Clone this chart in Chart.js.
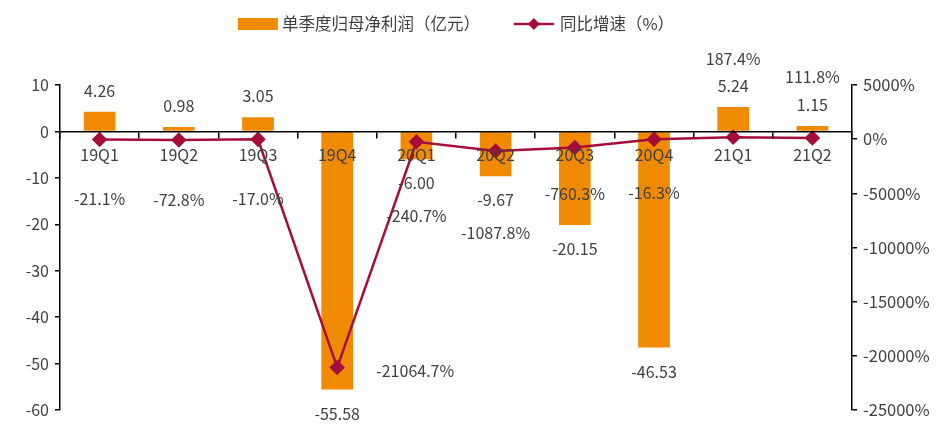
<!DOCTYPE html>
<html>
<head>
<meta charset="utf-8">
<script src="https://cdn.jsdelivr.net/npm/chart.js@4"></script>
<style>
html,body{margin:0;padding:0;background:#fff}
</style>
</head>
<body>
<canvas id="c" width="941" height="426"></canvas>
<script>
// quarters + values
const categories=['19Q1','19Q2','19Q3','19Q4','20Q1','20Q2','20Q3','20Q4','21Q1','21Q2'];
const profit=[4.26,0.98,3.05,-55.58,-6.00,-9.67,-20.15,-46.53,5.24,1.15];
const yoy=[-21.1,-72.8,-17.0,-21064.7,-240.7,-1087.8,-760.3,-16.3,187.4,111.8];
const seriesNames=['单季度归母净利润（亿元）','同比增速（%）'];

// where the yoy labels sit relative to their point (px)
const yoyDx=[0,0,0,78,0,0,0,0,0,0];
const yoyDy=[60,60,60,3,74,82,46,54,-78,-61];

const ORANGE='#F08A00', RED='#A50E3A', TXT='#404040';
const FONT='"Noto Sans CJK SC","Noto Sans",sans-serif';

const labelPlugin={id:'lbl',afterDraw(chart){
  const ctx=chart.ctx;
  ctx.save();
  ctx.font='16px '+FONT; ctx.fillStyle=TXT; ctx.textAlign='center'; ctx.textBaseline='middle';
  chart.getDatasetMeta(0).data.forEach((el,i)=>{
    const v=profit[i];
    ctx.fillText(v.toFixed(2),el.x,el.y+(v<0?24:-21));
  });
  chart.getDatasetMeta(1).data.forEach((el,i)=>{
    ctx.fillText(yoy[i].toFixed(1)+'%',el.x+yoyDx[i],el.y+yoyDy[i]);
  });
  // legend
  const {left,right}=chart.chartArea;
  ctx.font='16.5px '+FONT;
  const w1=ctx.measureText(seriesNames[0]).width, w2=ctx.measureText(seriesNames[1]).width;
  const total=40+4+w1+34+40+6+w2;
  let x=(left+right)/2-total/2; const y=24;
  ctx.fillStyle=ORANGE; ctx.fillRect(x,y-6,40,12);
  x+=44; ctx.fillStyle=TXT; ctx.textAlign='left'; ctx.fillText(seriesNames[0],x,y);
  x+=w1+34;
  ctx.strokeStyle=RED; ctx.lineWidth=2.5; ctx.beginPath(); ctx.moveTo(x,y); ctx.lineTo(x+40,y); ctx.stroke();
  ctx.fillStyle=RED; ctx.beginPath(); ctx.moveTo(x+20,y-6); ctx.lineTo(x+26,y); ctx.lineTo(x+20,y+6); ctx.lineTo(x+14,y); ctx.closePath(); ctx.fill();
  x+=46; ctx.fillStyle=TXT; ctx.fillText(seriesNames[1],x,y);
  ctx.restore();
}};

new Chart(document.getElementById('c'),{
  data:{labels:categories,datasets:[
    {type:'bar',label:seriesNames[0],data:profit,backgroundColor:ORANGE,yAxisID:'y',order:2,
     barPercentage:0.4,categoryPercentage:1},
    {type:'line',label:seriesNames[1],data:yoy,borderColor:RED,backgroundColor:RED,borderWidth:2.5,
     pointStyle:'rectRot',pointRadius:6,pointHoverRadius:6,tension:0,yAxisID:'y1',order:1}
  ]},
  options:{
    responsive:false,animation:false,devicePixelRatio:1,
    layout:{padding:{top:85,bottom:11,left:0,right:0}},
    plugins:{legend:{display:false},tooltip:{enabled:false}},
    scales:{
      x:{position:{y:0},offset:true,
         grid:{display:true,offset:true,drawOnChartArea:false,drawTicks:true,tickLength:6,color:'#000',lineWidth:1.5,z:1},
         border:{display:true,color:'#000',width:1.5,z:1},
         ticks:{color:TXT,font:{family:FONT,size:16},padding:8,maxRotation:0,z:1}},
      y:{position:'left',min:-60,max:10,
         ticks:{stepSize:10,color:TXT,font:{family:FONT,size:16},padding:6},
         grid:{drawOnChartArea:false,drawTicks:true,tickLength:5,color:'#000',lineWidth:1.5},
         border:{display:true,color:'#000',width:1.5},
         afterFit(s){s.width=60;}},
      y1:{position:'right',min:-25000,max:5000,
         ticks:{stepSize:5000,color:TXT,font:{family:FONT,size:16.5},padding:6,callback:v=>v+'%'},
         grid:{drawOnChartArea:false,drawTicks:true,tickLength:5,color:'#000',lineWidth:1.5},
         border:{display:true,color:'#000',width:1.5},
         afterFit(s){s.width=89;}}
    }
  },
  plugins:[labelPlugin]
});
</script>
</body>
</html>
